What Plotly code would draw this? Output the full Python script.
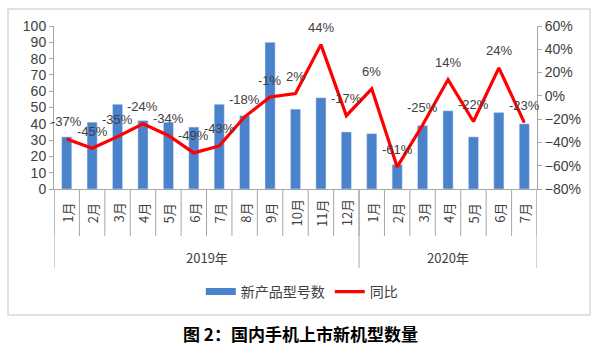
import plotly.graph_objects as go

months = ["1月", "2月", "3月", "4月", "5月", "6月", "7月", "8月", "9月", "10月", "11月", "12月",
          "1月", "2月", "3月", "4月", "5月", "6月", "7月"]
years = ["2019年", "2020年"]
year_counts = [12, 7]
new_models = [32, 41, 52, 42, 41, 38, 52, 45, 90, 49, 56, 35, 34, 15, 39, 48, 32, 47, 40]
yoy = [-37, -45, -35, -24, -34, -49, -43, -18, -1, 2, 44, -17, 6, -61, -25, 14, -22, 24, -23]

x = list(range(len(months)))
FONT = "Liberation Sans, Noto Sans CJK SC, sans-serif"
CJK = "Noto Sans CJK SC, sans-serif"
TXT = "#404040"
BAR = "#4A82CC"

L, R, T, B = 54, 63, 26, 157
W, H = 600, 346
pw, ph = W - L - R, H - T - B

def px2paper_x(px):
    return (px - L) / pw

def px2paper_y(py):
    return (H - B - py) / ph

fig = go.Figure()
fig.add_trace(go.Bar(x=x, y=new_models, name="新产品型号数", marker_color=BAR,
                     width=0.4, yaxis="y", showlegend=False))
# legend entry for bars drawn as a wide swatch
fig.add_trace(go.Scatter(x=[None], y=[None], name="新产品型号数", mode="lines",
                         line=dict(color=BAR, width=7), yaxis="y"))
fig.add_trace(go.Scatter(x=x, y=yoy, name="同比", mode="lines",
                         line=dict(color="#FF0000", width=3.2), yaxis="y2"))

# data labels for line
for xi, v in zip(x, yoy):
    fig.add_annotation(x=xi, y=v, yref="y2", text=f"{v}%", showarrow=False, yshift=17,
                       yanchor="middle", font=dict(family=FONT, size=13, color=TXT))

# month labels (rotated) and dividers
for xi, m in zip(x, months):
    fig.add_annotation(x=xi, y=px2paper_y(213), yref="paper", text=m, textangle=-90,
                       showarrow=False, yanchor="middle", xanchor="center",
                       font=dict(family=CJK, size=13, color=TXT))
n = len(months)
for b in range(n + 1):
    fig.add_shape(type="line", x0=b - 0.5, x1=b - 0.5, xref="x", yref="paper",
                  y0=0, y1=px2paper_y(236), line=dict(color="#A6A6A6", width=1))
# year group labels and long dividers
start = 0
bounds = [-0.5]
for yname, cnt in zip(years, year_counts):
    center = start + (cnt - 1) / 2
    fig.add_annotation(x=center, y=px2paper_y(257), yref="paper", text=yname, showarrow=False,
                       yanchor="middle", font=dict(family=CJK, size=13, color=TXT))
    start += cnt
    bounds.append(start - 0.5)
for b in bounds:
    fig.add_shape(type="line", x0=b, x1=b, xref="x", yref="paper",
                  y0=0, y1=px2paper_y(268), line=dict(color="#A6A6A6", width=1))

# outer border
fig.add_shape(type="rect", xref="paper", yref="paper",
              x0=px2paper_x(8), x1=px2paper_x(590), y0=px2paper_y(315), y1=px2paper_y(9),
              line=dict(color="#D9D9D9", width=1.5), layer="below")

# title
fig.add_annotation(xref="paper", yref="paper", x=px2paper_x(300), y=px2paper_y(333),
                   text="<b>图 2：国内手机上市新机型数量</b>", showarrow=False,
                   yanchor="middle", font=dict(family=CJK, size=17, color="#000000"))

fig.update_layout(
    width=W, height=H, margin=dict(l=L, r=R, t=T, b=B),
    paper_bgcolor="white", plot_bgcolor="white",
    showlegend=True,
    legend=dict(orientation="h", xref="container", yref="container", x=0.503, y=1 - 292 / H,
                xanchor="center", yanchor="middle",
                font=dict(family=CJK, size=14, color=TXT),
                bgcolor="rgba(0,0,0,0)"),
    xaxis=dict(range=[-0.5, n - 0.5], showticklabels=False, showgrid=False, zeroline=False,
               showline=True, linecolor="#A6A6A6", linewidth=1, ticks=""),
    yaxis=dict(range=[0, 100], dtick=10, showgrid=False, zeroline=False, showline=True,
               linecolor="#A6A6A6", ticks="outside", ticklen=4, tickcolor="#A6A6A6",
               tickfont=dict(family=FONT, size=14, color=TXT)),
    yaxis2=dict(range=[-80, 60], dtick=20, overlaying="y", side="right", showgrid=False,
                zeroline=False, showline=True, linecolor="#A6A6A6", ticks="outside", ticklen=4,
                tickcolor="#A6A6A6", ticksuffix="%",
                tickfont=dict(family=FONT, size=14, color=TXT)),
)

fig.write_html("out.html")
